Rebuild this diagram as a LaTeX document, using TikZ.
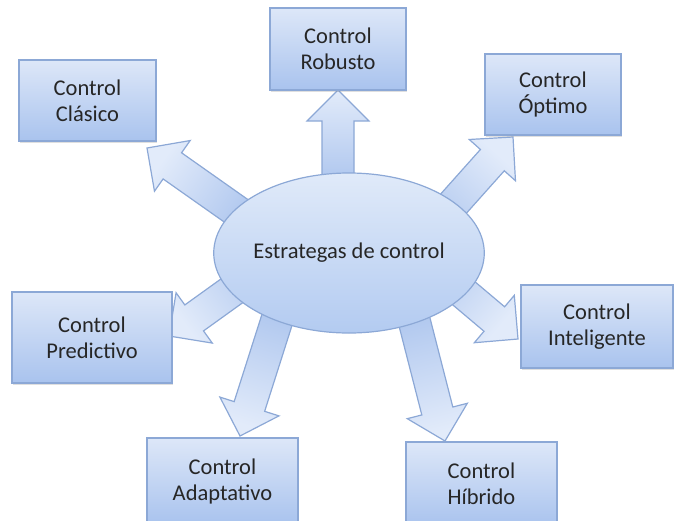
\documentclass[tikz,border=0pt]{standalone}
\usepackage{fontspec}
\setmainfont{Carlito}
\usetikzlibrary{calc,shapes.geometric,shadows}

\definecolor{boxtop}{HTML}{DDE7F8}
\definecolor{boxbot}{HTML}{A9C3EE}
\definecolor{boxline}{HTML}{8CA8D6}
\definecolor{elltop}{HTML}{E0EAF9}
\definecolor{ellbot}{HTML}{B3CBF1}
\definecolor{arrlow}{HTML}{A4BFEC}
\definecolor{arrhigh}{HTML}{E2EBFA}
\definecolor{txt}{HTML}{262626}

% block arrow from #1 (inside the ellipse) to its tip #2
\newcommand{\blockarrow}[2]{%
  \pgfmathanglebetweenpoints{\pgfpointanchor{#1}{center}}{\pgfpointanchor{#2}{center}}%
  \pgfmathsetmacro{\arrang}{\pgfmathresult-90}%
  \coordinate (#1-b) at ($(#2)!31pt!(#1)$);
  \draw[arrow body, shading angle=\arrang]
    ($(#1)!16pt!90:(#2)$) -- ($(#1-b)!16pt!90:(#2)$) -- ($(#1-b)!31pt!90:(#2)$)
    -- (#2) -- ($(#1-b)!31pt!-90:(#2)$) -- ($(#1-b)!16pt!-90:(#2)$)
    -- ($(#1)!16pt!-90:(#2)$) -- cycle;
}

\begin{document}
\begin{tikzpicture}[x=1pt, y=-1pt,
  every node/.style={font=\fontsize{22.5}{26}\selectfont, text=txt},
  arrow body/.style={draw=boxline, line width=1.2pt, line join=miter,
    bottom color=arrlow, top color=arrhigh},
  ctrl/.style={draw=boxline, line width=1.2pt, top color=boxtop, bottom color=boxbot,
    align=center, inner sep=2pt,
    drop shadow={shadow xshift=1.2pt, shadow yshift=-1.5pt, opacity=0.25}},
  strat/.style={ellipse, draw=boxline, line width=1.2pt, top color=elltop,
    bottom color=ellbot, minimum width=258pt, minimum height=160pt, inner sep=0pt}]
\useasboundingbox (0,0) rectangle (674,520);
% --- arrows, start and tip ---
\coordinate (sRob) at (338,200); \coordinate (tRob) at (338,90);
\coordinate (sCla) at (269,234); \coordinate (tCla) at (147,148);
\coordinate (sOpt) at (413,249); \coordinate (tOpt) at (513,137);
\coordinate (sPre) at (290,249); \coordinate (tPre) at (169,336);
\coordinate (sInt) at (403,242); \coordinate (tInt) at (518,339);
\coordinate (sAda) at (290,279); \coordinate (tAda) at (240,436);
\coordinate (sHib) at (404,281); \coordinate (tHib) at (445,441);
\blockarrow{sRob}{tRob}
\blockarrow{sCla}{tCla}
\blockarrow{sOpt}{tOpt}
\blockarrow{sPre}{tPre}
\blockarrow{sInt}{tInt}
\blockarrow{sAda}{tAda}
\blockarrow{sHib}{tHib}
% --- centre ---
\node[strat] (est) at (349,253) {Estrategas de control};
% --- strategies ---
\node[ctrl, minimum width=137pt, minimum height=81pt] (cla) at (87.5,100.5) {Control\\Clásico};
\node[ctrl, minimum width=136pt, minimum height=82pt] (rob) at (338,49)     {Control\\Robusto};
\node[ctrl, minimum width=136pt, minimum height=81pt] (opt) at (553,94.5)   {Control\\Óptimo};
\node[ctrl, minimum width=160pt, minimum height=91pt] (pre) at (92,337.5)   {Control\\Predictivo};
\node[ctrl, minimum width=152pt, minimum height=83pt] (int) at (597,326.5)  {Control\\Inteligente};
\node[ctrl, minimum width=151pt, minimum height=86pt] (ada) at (222.5,481)  {Control\\Adaptativo};
\node[ctrl, minimum width=151pt, minimum height=84pt] (hib) at (481.5,484)  {Control\\Híbrido};
\end{tikzpicture}
\end{document}
